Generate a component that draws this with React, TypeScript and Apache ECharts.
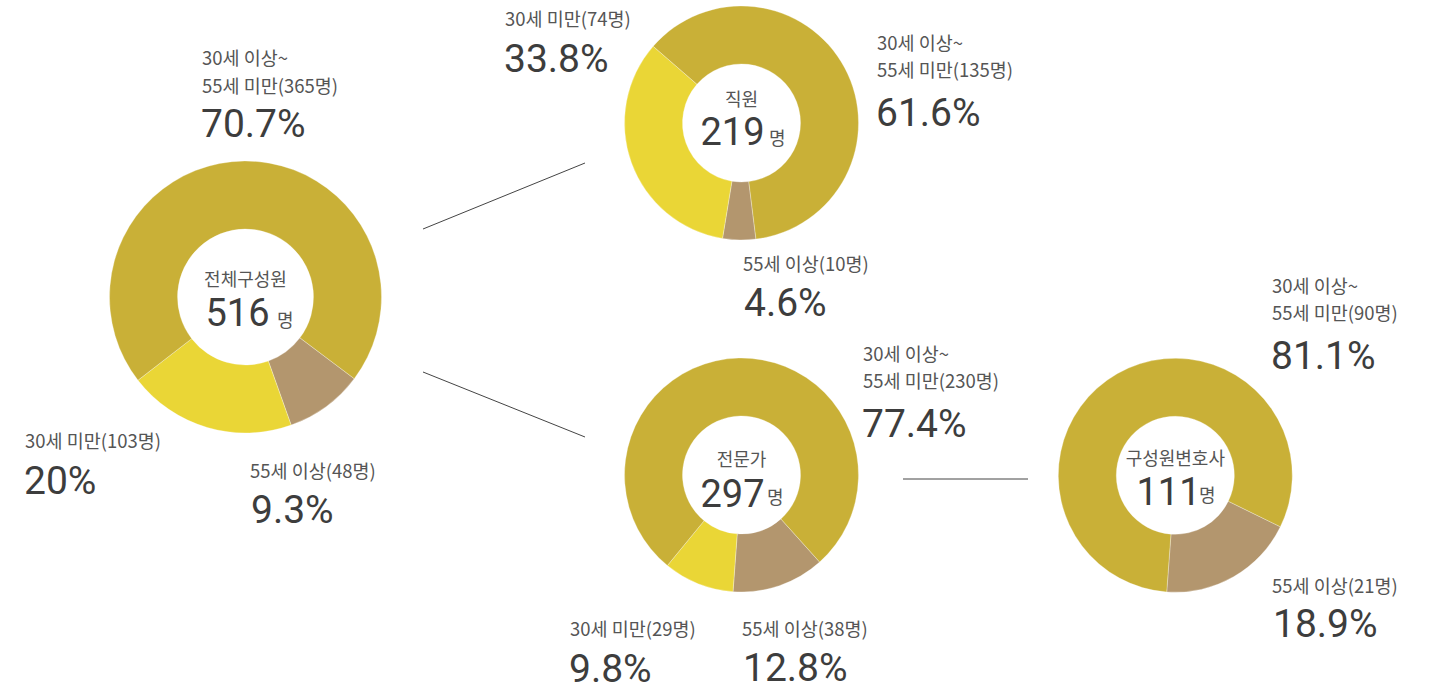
import React, { useEffect, useRef } from "react";
import * as echarts from "echarts";

// ---- data ----
const groupNames = ["전체구성원", "직원", "전문가", "구성원변호사"];
const totals = [516, 219, 297, 111];
const ageCategories = ["30세 미만", "30세 이상~ 55세 미만", "55세 이상"];
const under30 = [103, 74, 29, 0];
const mid30to55 = [365, 135, 230, 90];
const over55 = [48, 10, 38, 21];
const under30Pct = ["20%", "33.8%", "9.8%", ""];
const midPct = ["70.7%", "61.6%", "77.4%", "81.1%"];
const over55Pct = ["9.3%", "4.6%", "12.8%", "18.9%"];

// ---- layout / style ----
const OLIVE = "#C9B037";
const YELLOW = "#EAD636";
const BROWN = "#B3966E";
const LABEL_COLOR = "#555555";
const NUM_COLOR = "#3d3d3d";
const KR = "'Noto Sans CJK KR', 'Noto Sans', sans-serif";
const NUMF = "Roboto, 'Noto Sans', sans-serif";

const pies = [
  { center: [245.5, 297], radius: [68, 136], startAngle: 323.1 },
  { center: [741.5, 123], radius: [59, 117], startAngle: 277.1 },
  { center: [741.5, 475], radius: [59, 117], startAngle: 311.9 },
  { center: [1175.3, 475.3], radius: [59, 117], startAngle: 333.9 },
];

const midPos = [
  [202, 57],
  [877, 42],
  [863, 353],
  [1272, 285],
];
const under30Pos = [
  [25, 440],
  [505, 18],
  [570, 628],
  null,
];
const over55Pos = [
  [250, 470],
  [743, 263],
  [742, 628],
  [1272, 585],
];
// center text positions: [titleY, numCenterX, numY, unitX, unitY]
const centerPos = [
  [278, 237.5, 313, 277, 319],
  [98, 732.5, 132, 769, 137],
  [458, 732.5, 494, 767, 496],
  [457, 1168.5, 492, 1199, 494],
];

function txt(text: string, x: number, y: number, size: number, family: string, color: string, align = "left") {
  return {
    type: "text",
    x,
    y,
    silent: true,
    style: {
      text,
      fill: color,
      fontSize: size,
      fontFamily: family,
      textAlign: align,
      textVerticalAlign: "middle",
    },
  };
}

export default function App() {
  const ref = useRef<HTMLDivElement>(null);
  useEffect(() => {
    if (!ref.current) return;
    const chart = echarts.init(ref.current, null, { renderer: "svg" });

    const series = pies.map((p, i) => {
      const data: any[] = [
        { name: ageCategories[2], value: over55[i], itemStyle: { color: BROWN } },
      ];
      if (under30[i] > 0) data.push({ name: ageCategories[0], value: under30[i], itemStyle: { color: YELLOW } });
      data.push({ name: ageCategories[1], value: mid30to55[i], itemStyle: { color: OLIVE } });
      return {
        type: "pie",
        name: groupNames[i],
        center: p.center,
        radius: p.radius,
        startAngle: p.startAngle,
        clockwise: true,
        silent: true,
        label: { show: false },
        labelLine: { show: false },
        emphasis: { disabled: true },
        itemStyle: { borderColor: "rgba(255,255,255,0.6)", borderWidth: 0.5 },
        data,
      };
    });

    const graphics: any[] = [];
    const LS = 18.5;
    const PS = 39;
    for (let i = 0; i < groupNames.length; i++) {
      const [mx, my] = midPos[i];
      graphics.push(txt("30세 이상~", mx, my, LS, KR, LABEL_COLOR));
      graphics.push(txt(`55세 미만(${mid30to55[i]}명)`, mx, my + (i === 0 ? 28 : 26.5), LS, KR, LABEL_COLOR));
      graphics.push(txt(midPct[i], mx - 1, my + (i === 0 ? 67 : 71), PS, NUMF, NUM_COLOR));
      const up = under30Pos[i];
      if (up && under30[i] > 0) {
        graphics.push(txt(`${ageCategories[0]}(${under30[i]}명)`, up[0], up[1], LS, KR, LABEL_COLOR));
        graphics.push(txt(under30Pct[i], up[0] - 1, up[1] + 41, PS, NUMF, NUM_COLOR));
      }
      const op = over55Pos[i];
      graphics.push(txt(`${ageCategories[2]}(${over55[i]}명)`, op[0], op[1], LS, KR, LABEL_COLOR));
      graphics.push(txt(over55Pct[i], op[0] + 1, op[1] + (i === 3 ? 39 : 40), PS, NUMF, NUM_COLOR));
      const [ty, nx, ny, ux, uy] = centerPos[i];
      const cx = pies[i].center[0];
      graphics.push(txt(groupNames[i], cx, ty, 18, KR, LABEL_COLOR, "center"));
      graphics.push(txt(String(totals[i]), nx, ny, 38, NUMF, NUM_COLOR, "center"));
      graphics.push(txt("명", ux, uy, 18, KR, LABEL_COLOR));
    }
    const lines = [
      [423, 229, 585, 163],
      [423, 372, 585, 437],
      [903, 479, 1028, 479],
    ];
    lines.forEach(([x1, y1, x2, y2]) =>
      graphics.push({
        type: "line",
        silent: true,
        shape: { x1, y1, x2, y2 },
        style: { stroke: "#444", lineWidth: 1 },
      })
    );

    chart.setOption({
      animation: false,
      backgroundColor: "#ffffff",
      series,
      graphic: graphics,
    });
    return () => chart.dispose();
  }, []);
  return (
    <div
      ref={ref}
      style={{ position: "fixed", left: 0, top: 0, width: 1440, height: 690 }}
    />
  );
}
